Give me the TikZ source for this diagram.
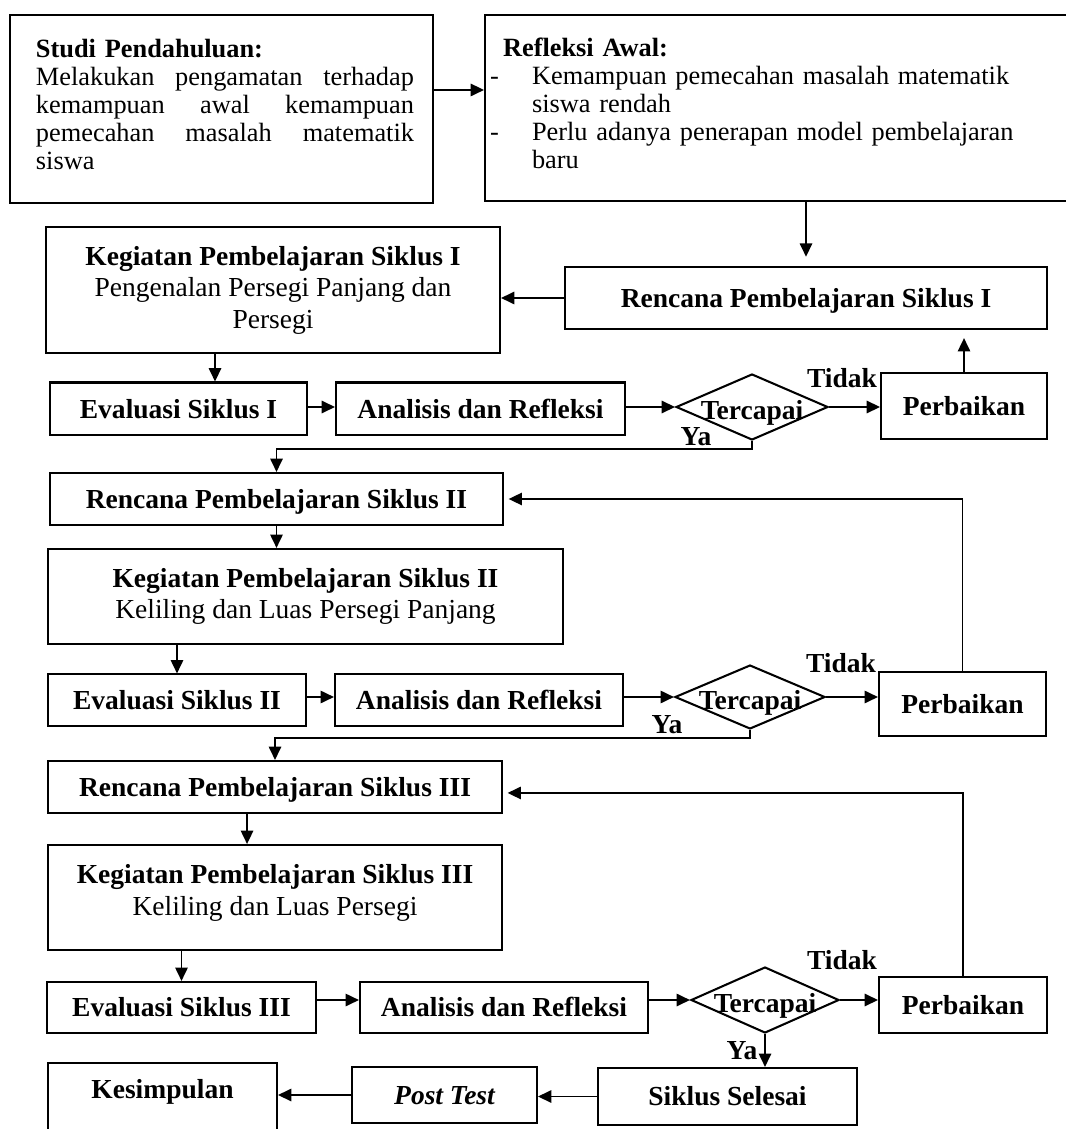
\documentclass[tikz,border=0pt]{standalone}
\usepackage{fontspec}
\setmainfont{Liberation Serif}
\usetikzlibrary{arrows.meta,shapes.geometric}
\newlength{\px}
\setlength{\px}{0.43636pt}
\newcommand{\jline}[1]{\makebox[378\px][s]{\spaceskip=0pt\xspaceskip=0pt\relax #1}}

\begin{document}
\begin{tikzpicture}[x=0.43636pt,y=-0.43636pt,
      >={Triangle[length=5.8pt,width=5.4pt]},
      flow/.style={->,line width=0.7pt},
      box/.style={draw,line width=0.9pt,inner sep=0pt,
        font=\fontsize{12}{13.75}\selectfont\bfseries,text height=8pt,text depth=0pt},
      tall/.style={draw,line width=0.9pt,inner sep=0pt,align=center,
        font=\fontsize{12}{13.75}\selectfont},
      note/.style={draw,line width=0.9pt,inner sep=0pt,align=left,
        font=\fontsize{11.5}{12.2}\selectfont},
      decision/.style={diamond,draw,line width=0.9pt,inner sep=0pt,
        font=\fontsize{12}{13.75}\selectfont\bfseries,text height=11pt,text depth=0pt},
      lbl/.style={inner sep=0pt,font=\fontsize{12}{13.75}\selectfont\bfseries,
        text height=8pt,text depth=0pt}
    ]
    \useasboundingbox (0,0) rectangle (1065,1129);

    % awal
    \node[note,text width=184.6pt,minimum height=82pt] (studi) at (221.5,109)
      {\hspace*{26\px}\textbf{Studi Pendahuluan:}\\
       \hspace*{26\px}\jline{Melakukan pengamatan terhadap}\\
       \hspace*{26\px}\jline{kemampuan awal kemampuan}\\
       \hspace*{26\px}\jline{pemecahan masalah matematik}\\
       \hspace*{26\px}siswa\rule[-10\px]{0pt}{10\px}};
    \node[note,text width=262.3pt,minimum height=81.2pt,anchor=west] (refl) at (484,108)
      {\hspace*{18\px}\textbf{Refleksi Awal:}\\
       \hspace*{5\px}\makebox[42\px][l]{-}Kemampuan pemecahan masalah matematik\\
       \hspace*{47\px}siswa rendah\\
       \hspace*{5\px}\makebox[42\px][l]{-}Perlu adanya penerapan model pembelajaran\\
       \hspace*{47\px}baru\rule[-10\px]{0pt}{10\px}};

    % siklus I
    \node[box,minimum width=210.3pt,minimum height=27.1pt] (rp1) at (806,298)
      {Rencana Pembelajaran Siklus I};
    \node[tall,minimum width=198.1pt,minimum height=55pt] (ki1) at (273,290)
      {\textbf{Kegiatan Pembelajaran Siklus I}\\Pengenalan Persegi Panjang dan\\Persegi};
    \node[box,minimum width=112.1pt,minimum height=23.1pt] (ev1) at (178.5,409) {Evaluasi Siklus I};
    \node[box,minimum width=126.1pt,minimum height=23.1pt] (an1) at (480.5,409) {Analisis dan Refleksi};
    \node[decision,minimum width=66.3pt,minimum height=28.8pt] (di1) at (752,407)
      {\makebox[0pt]{Tercapai}};
    \node[box,minimum width=72.4pt,minimum height=28.4pt] (pb1) at (964,406) {Perbaikan};
    \node[lbl] (tidak1) at (842,378) {Tidak};
    \node[lbl] (ya1) at (696,436) {Ya};

    % siklus II
    \node[box,minimum width=197.7pt,minimum height=22.7pt] (rp2) at (276.5,499)
      {Rencana Pembelajaran Siklus II};
    \node[tall,minimum width=224.7pt,minimum height=41.5pt] (ki2) at (305.5,596.5)
      {\textbf{Kegiatan Pembelajaran Siklus II}\\Keliling dan Luas Persegi Panjang};
    \node[box,minimum width=112.6pt,minimum height=22.3pt] (ev2) at (177,700) {Evaluasi Siklus II};
    \node[box,minimum width=125.7pt,minimum height=22.3pt] (an2) at (479,700) {Analisis dan Refleksi};
    \node[decision,minimum width=65.5pt,minimum height=27.9pt] (di2) at (750,697)
      {\makebox[0pt]{Tercapai}};
    \node[box,minimum width=72.9pt,minimum height=27.9pt] (pb2) at (962.5,704) {Perbaikan};
    \node[lbl] (tidak2) at (841,663) {Tidak};
    \node[lbl] (ya2) at (667,724) {Ya};

    % siklus III
    \node[box,minimum width=198.1pt,minimum height=22.7pt] (rp3) at (275,787)
      {Rencana Pembelajaran Siklus III};
    \node[tall,minimum width=198.1pt,minimum height=45.8pt] (ki3) at (275,897.5)
      {\textbf{Kegiatan Pembelajaran Siklus III}\\Keliling dan Luas Persegi\rule[-15\px]{0pt}{15\px}};
    \node[box,minimum width=117.4pt,minimum height=22.3pt] (ev3) at (181.5,1007.5) {Evaluasi Siklus III};
    \node[box,minimum width=125.7pt,minimum height=22.3pt] (an3) at (504,1007.5) {Analisis dan Refleksi};
    \node[decision,minimum width=64.6pt,minimum height=28.8pt] (di3) at (765,1000)
      {\makebox[0pt]{Tercapai}};
    \node[box,minimum width=73.3pt,minimum height=24.4pt] (pb3) at (963,1005) {Perbaikan};
    \node[lbl] (tidak3) at (842,960) {Tidak};
    \node[lbl] (ya3) at (742,1050) {Ya};

    % akhir
    \node[box,minimum width=113pt,minimum height=24.9pt] (ss) at (727.5,1096.5) {Siklus Selesai};
    \node[box,minimum width=80.7pt,minimum height=24.4pt] (post) at (444.5,1095) {\itshape Post Test};
    \node[box,minimum width=99.9pt,minimum height=38pt,text depth=15.3pt] (ks) at (162.5,1106.5) {Kesimpulan};

    \draw[flow] ([yshift=8.3pt]studi.east) -- ([yshift=8.3pt]studi.east -| refl.west);
    \draw[flow,shorten >=4pt] (refl.south -| rp1.north) -- (rp1.north);
    \draw[flow] (rp1.west) -- (rp1.west -| ki1.east);
    \draw[flow] ([xshift=-25.3pt]ki1.south) -- ([xshift=-25.3pt]ki1.south |- ev1.north);
    \draw[flow] (ev1.east |- di1) -- (an1.west |- di1);
    \draw[flow] (an1.east |- di1) -- (di1.west);
    \draw[flow] (di1.east) -- (di1.east -| pb1.west);
    \draw[flow,shorten >=3.5pt] (pb1.north) -- (pb1.north |- rp1.south);
    \draw[flow] (di1.south) -- ++(0,8) -| (rp2.north);

    \draw[flow,shorten >=2pt] (pb2.north) |- (rp2.east);
    \draw[flow] (rp2.south) -- (rp2.south |- ki2.north);
    \draw[flow] (ki2.south -| ev2.north) -- (ev2.north);
    \draw[flow] (ev2.east |- di2) -- (an2.west |- di2);
    \draw[flow] (an2.east |- di2) -- (di2.west);
    \draw[flow] (di2.east) -- (di2.east -| pb2.west);
    \draw[flow] (di2.south) -- ++(0,8) -| (rp3.north);

    \draw[flow,shorten >=2pt] (pb3.north) |- ([yshift=-2.6pt]rp3.east);
    \draw[flow] ([xshift=-12.2pt]rp3.south) -- ([xshift=-12.2pt]rp3.south |- ki3.north);
    \draw[flow] (ki3.south -| ev3.north) -- (ev3.north);
    \draw[flow] (ev3.east |- di3) -- (an3.west |- di3);
    \draw[flow] (an3.east |- di3) -- (di3.west);
    \draw[flow] (di3.east) -- (di3.east -| pb3.west);
    \draw[flow] (di3.south) -- (di3.south |- ss.north);
    \draw[flow] (ss.west) -- (ss.west -| post.east);
    \draw[flow] (post.west) -- (post.west -| ks.east);
  \end{tikzpicture}
\end{document}
